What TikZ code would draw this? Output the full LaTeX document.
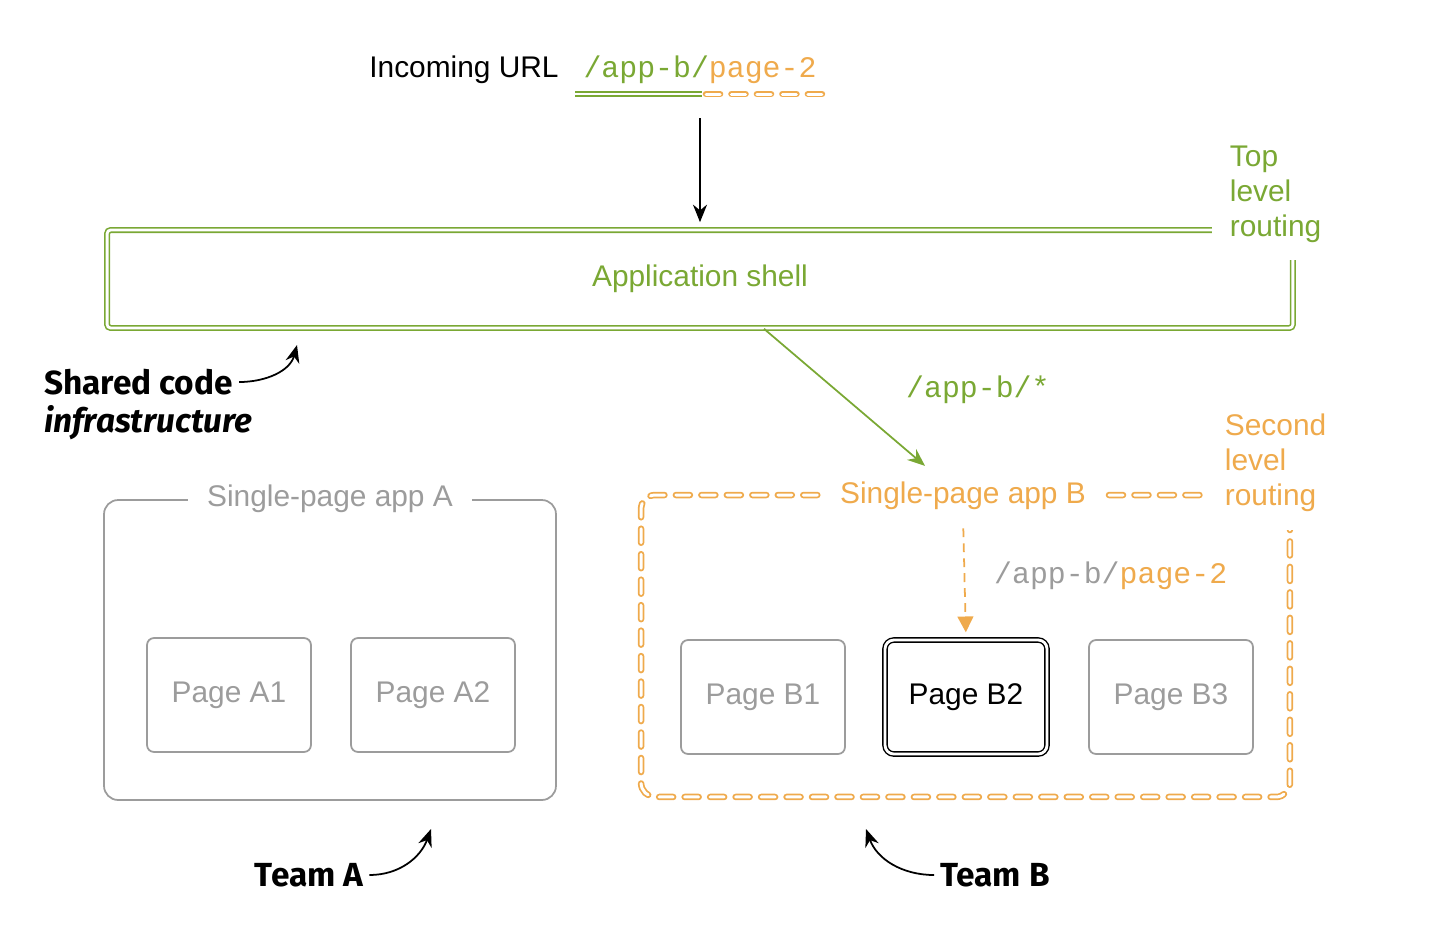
\documentclass[tikz,border=0pt]{standalone}
\usepackage{fontspec}
\setmainfont{Liberation Sans}
\setmonofont{Liberation Mono}
\newfontfamily\calloutfont{Fira Sans}
\usetikzlibrary{positioning, arrows.meta, calc}
\definecolor{shellGreen}{HTML}{7AA834}
\definecolor{spaOrange}{HTML}{EFAA4C}
\definecolor{pageGrey}{HTML}{9C9C9C}
\tikzset{
  every node/.style={font=\fontsize{17}{20}\selectfont},
  arr/.style={-{Stealth[length=10pt, width=8pt]}, line width=1pt},
  shellline/.style={draw=shellGreen, double, double distance=1.6pt, line width=0.9pt},
  dashline/.style={draw=spaOrange, double, double distance=1.7pt, line width=1pt,
                   line cap=round, dash pattern=on 8pt off 6.5pt},
  pagebox/.style={draw=pageGrey, rounded corners=4pt, line width=1pt, text=pageGrey,
                  minimum width=3.28cm, minimum height=2.28cm},
  apptitle/.style={fill=white, inner xsep=11pt},
  routing/.style={align=left, fill=white, inner sep=10pt, anchor=west},
  callout/.style={font=\calloutfont\bfseries\fontsize{19}{23}\selectfont},
}

\begin{document}
\begin{tikzpicture}[x=0.02cm, y=-0.02cm]
  \useasboundingbox (0,0) rectangle (1430,948);
  % incoming url
  \node (url) at (700,70) {\ttfamily\textcolor{shellGreen}{/app-b/}\textcolor{spaOrange}{page-2}};
  \node[left=0.25cm of url] (incoming) {Incoming URL};
  \draw[shellline] (575,94) -- (702,94);
  \draw[dashline] (706,94) -- (826,94);
  % application shell
  \node[shellline, rounded corners=2pt, minimum width=23.72cm, minimum height=1.96cm,
        text=shellGreen] (shell) at (700,279) {Application shell};
  \node[routing, text=shellGreen] (toprouting) at (1212,194) {Top\\level\\routing};
  \draw[arr, shorten <=16pt, shorten >=4pt] (url.south) -- (shell.north);
  % shared code callout
  \node[callout, anchor=west] (sharedA) at (38,382) {Shared code};
  \node[callout, anchor=west] (sharedB) at (38,423) {\itshape infrastructure};
  \coordinate (shellTip) at (297,345);
  \draw[arr] (sharedA.east) to[out=0, in=-105] (shellTip);
  % single-page app A
  \node[draw=pageGrey, line width=1pt, rounded corners=8pt, minimum width=9.04cm,
        minimum height=6cm] (spaA) at (330,650) {};
  \node[apptitle, text=pageGrey] (spaAtitle) at (spaA.north) {Single-page app A};
  \node[pagebox] (pageA1) at (229,695) {Page A1};
  \node[pagebox] (pageA2) at (433,695) {Page A2};
  % single-page app B
  \node[dashline, rounded corners=8pt, minimum width=12.98cm, minimum height=6.04cm]
    (spaB) at (965.5,646) {};
  \node[apptitle, text=spaOrange] (spaBtitle) at (963,496) {Single-page app B};
  \node[routing, text=spaOrange] (secondrouting) at (1207,463) {Second\\level\\routing};
  \node[pagebox] (pageB1) at (763,697) {Page B1};
  \node[draw, double, double distance=1.6pt, line width=0.8pt, rounded corners=5pt,
        minimum width=3.24cm, minimum height=2.28cm] (pageB2) at (966,697) {Page B2};
  \node[pagebox] (pageB3) at (1171,697) {Page B3};
  % routing arrows
  \draw[arr, shellGreen] ([xshift=1.28cm]shell.south)
    -- ([xshift=-0.76cm, yshift=0.2cm]spaBtitle.north);
  \node[anchor=west, text=shellGreen] (routeB) at (900,390) {\ttfamily /app-b/*};
  \draw[-{Triangle[length=9pt, width=9pt]}, spaOrange, line width=1pt,
        dash pattern=on 5pt off 3.5pt, shorten <=7pt, shorten >=4pt]
    (spaBtitle.south) -- (pageB2.north);
  \node[anchor=west] (routeB2) at (988,576)
    {\ttfamily\textcolor{pageGrey}{/app-b/}\textcolor{spaOrange}{page-2}};
  % teams
  \node[callout] (teamA) at (309,875) {Team A};
  \coordinate (teamATip) at (431,829);
  \draw[arr] (teamA.east) to[out=0, in=-110] (teamATip);
  \node[callout] (teamB) at (995,875) {Team B};
  \coordinate (teamBTip) at (866,829);
  \draw[arr] (teamB.west) to[out=180, in=-70] (teamBTip);
\end{tikzpicture}
\end{document}
